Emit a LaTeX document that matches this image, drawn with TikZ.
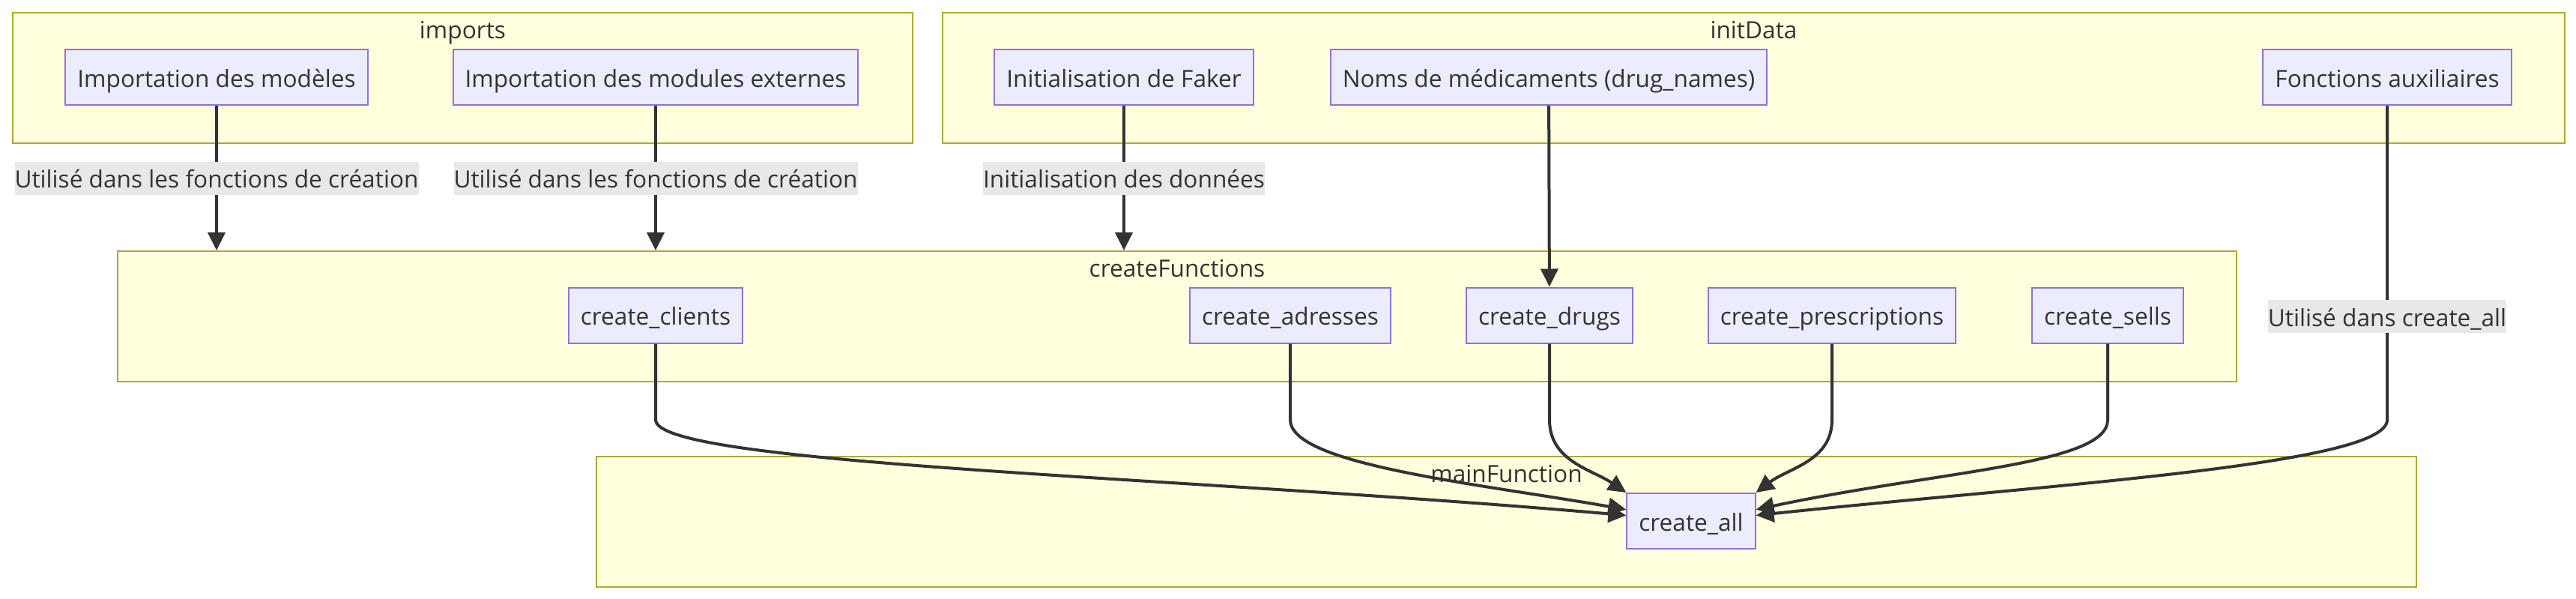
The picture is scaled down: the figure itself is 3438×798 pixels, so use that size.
\documentclass[tikz,border=0pt]{standalone}
\usepackage{fontspec}
\setmainfont{Open Sans}
\usepackage{tikz}
\usetikzlibrary{arrows.meta,positioning,calc}
\definecolor{ink}{HTML}{333333}
\definecolor{grpfill}{HTML}{FFFFDE}
\definecolor{grpline}{HTML}{AAAA33}
\definecolor{fnfill}{HTML}{ECECFF}
\definecolor{fnline}{HTML}{9370DB}
\definecolor{lblfill}{HTML}{E8E8E8}
\newcommand{\dgfont}{\fontsize{9}{11}\selectfont}
\tikzset{
  grp/.style={rectangle,draw=grpline,fill=grpfill,line width=0.2mm,inner sep=0pt,anchor=north west,minimum height=17.4mm},
  grptitle/.style={text=ink,font=\dgfont,inner sep=0pt,text height=0.76em,text depth=0pt},
  fn/.style={rectangle,draw=fnline,fill=fnfill,line width=0.2mm,minimum height=7.4mm,inner xsep=1.6mm,inner ysep=0pt,text=ink,font=\dgfont,text height=0.76em,text depth=0pt},
  lbl/.style={rectangle,fill=lblfill,inner xsep=0pt,inner ysep=0pt,minimum height=4.4mm,text=ink,font=\dgfont,text height=0.76em,text depth=0pt},
  arr/.style={-{Triangle[length=2.4mm,width=2.3mm]},line width=0.4mm,draw=ink},
}

\begin{document}
\begin{tikzpicture}[x=0.1mm,y=0.1mm]
\useasboundingbox (0,0) rectangle (3438,-798);
% groups
\node[grp,minimum width=120.1mm] (imports) at (16,-16) {};
\node[grp,minimum width=216.5mm] (initData) at (1257,-16) {};
\node[grp,minimum width=282.8mm] (createFunctions) at (156,-334) {};
\node[grp,minimum width=242.9mm] (mainFunction) at (795,-608) {};
\foreach \g in {imports,initData,createFunctions,mainFunction}{
  \node[grptitle] (\g T) at ([yshift=-2.2mm]\g.north) {\g};}
% imports / initData
\node[fn] (mod) at (289,-103) {Importation des modèles};
\node[fn] (ext) at (875,-103) {Importation des modules externes};
\node[fn] (fk) at (1500,-103) {Initialisation de Faker};
\node[fn] (dn) at (2067,-103) {Noms de médicaments (drug\_names)};
\node[fn] (aux) at (3186,-103) {Fonctions auxiliaires};
% createFunctions
\node[fn] (cl) at (875,-420.5) {create\_clients};
\node[fn] (ad) at (1722,-420.5) {create\_adresses};
\node[fn] (dr) at (2068,-420.5) {create\_drugs};
\node[fn] (pr) at (2445,-420.5) {create\_prescriptions};
\node[fn] (se) at (2813,-420.5) {create\_sells};
% mainFunction
\node[fn] (all) at (2257,-695) {create\_all};
\coordinate (turn) at (0,-560);
% edges
\draw[arr] (mod) -- node[lbl] {Utilisé dans les fonctions de création} (mod |- createFunctions.north);
\draw[arr] (ext) -- node[lbl] {Utilisé dans les fonctions de création} (ext |- createFunctions.north);
\draw[arr] (fk) -- node[lbl] {Initialisation des données} (fk |- createFunctions.north);
\draw[arr] (dn) -- (dr);
\draw[arr] (cl) -- (cl |- turn) to[out=-90,in=175,out distance=6mm,in distance=60mm] (all.175);
\draw[arr] (ad) -- (ad |- turn) to[out=-90,in=170,out distance=6mm,in distance=20mm] (all.170);
\draw[arr] (dr) -- (dr |- turn) to[out=-90,in=146] (all.north west);
\draw[arr] (pr) -- (pr |- turn) to[out=-90,in=37] (all.north east);
\draw[arr] (se) -- (se |- turn) to[out=-90,in=12,out distance=6mm,in distance=25mm] (all.10);
\draw[arr] (aux) -- node[lbl,pos=0.67] {Utilisé dans create\_all} (aux |- turn) to[out=-90,in=6,out distance=6mm,in distance=40mm] (all.5);
\end{tikzpicture}
\end{document}
